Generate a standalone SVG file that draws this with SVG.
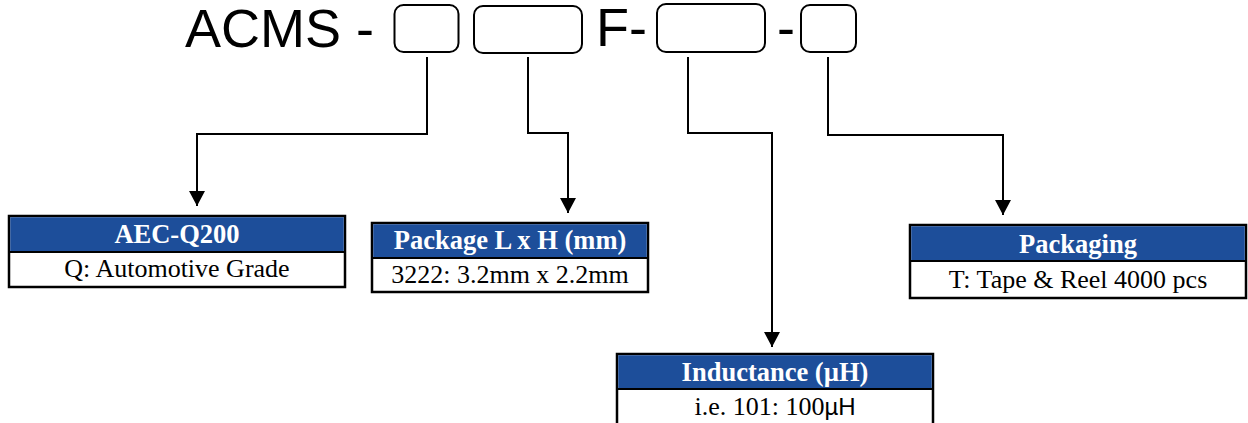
<svg xmlns="http://www.w3.org/2000/svg" width="1248" height="423" viewBox="0 0 1248 423">
  <defs>
    <marker id="arrow" markerUnits="userSpaceOnUse" markerWidth="16" markerHeight="16" viewBox="0 0 16 16" refX="15" refY="8" orient="auto">
      <path d="M0,0 L15,8 L0,16 Z" fill="#000"/>
    </marker>
    <style>
      .title { font-family: "Liberation Sans", Arial, sans-serif; font-size: 54px; fill: #000; }
      .slot { fill: none; stroke: #000; stroke-width: 2; }
      .conn { fill: none; stroke: #000; stroke-width: 2; }
      .hdr { fill: #1D4E9A; }
      .frame { fill: #fff; stroke: #000; stroke-width: 2.5; }
      .div { stroke: #000; stroke-width: 2; }
      .htxt { font-family: "Liberation Serif", "Times New Roman", "DejaVu Serif", serif; font-weight: bold; font-size: 26.5px; fill: #fff; text-anchor: middle; }
      .btxt { font-family: "Liberation Serif", "Times New Roman", "DejaVu Serif", serif; font-size: 26px; fill: #000; text-anchor: middle; }
      .sans { font-family: "Liberation Sans", Arial, sans-serif; font-size: 24px; }
    </style>
  </defs>

  <g id="part-number">
    <text class="title" x="185" y="47">ACMS -</text>
    <rect class="slot" x="394.5" y="5" width="64" height="47" rx="9"/>
    <rect class="slot" x="474" y="6" width="108" height="47" rx="9"/>
    <text class="title" x="596" y="46">F-</text>
    <rect class="slot" x="657" y="4" width="108" height="48" rx="9"/>
    <text class="title" x="777" y="46">-</text>
    <rect class="slot" x="801" y="5" width="55" height="47" rx="9"/>
  </g>

  <g id="connectors">
    <path class="conn" d="M427,57 V134 H197 V206" marker-end="url(#arrow)"/>
    <path class="conn" d="M528,57 V133 H568 V213" marker-end="url(#arrow)"/>
    <path class="conn" d="M688,57 V133 H772 V347" marker-end="url(#arrow)"/>
    <path class="conn" d="M828,57 V135 H1003 V215" marker-end="url(#arrow)"/>
  </g>

  <g id="aec-q200">
    <rect class="frame" x="9" y="216" width="336" height="71"/>
    <rect class="hdr" x="10.25" y="217.25" width="333.5" height="34.75"/>
    <line class="div" x1="9" y1="252" x2="345" y2="252"/>
    <text class="htxt" x="177" y="243">AEC-Q200</text>
    <text class="btxt" x="177" y="277">Q: Automotive Grade</text>
  </g>

  <g id="package">
    <rect class="frame" x="372" y="223" width="276" height="69"/>
    <rect class="hdr" x="373.25" y="224.25" width="273.5" height="33.75"/>
    <line class="div" x1="372" y1="258" x2="648" y2="258"/>
    <text class="htxt" x="510" y="249">Package L x H (mm)</text>
    <text class="btxt" x="510" y="283">3222: 3.2mm x 2.2mm</text>
  </g>

  <g id="packaging">
    <rect class="frame" x="910" y="225" width="336" height="73"/>
    <rect class="hdr" x="911.25" y="226.25" width="333.5" height="34.75"/>
    <line class="div" x1="910" y1="261" x2="1246" y2="261"/>
    <text class="htxt" x="1078" y="253">Packaging</text>
    <text class="btxt" x="1078" y="288">T: Tape &amp; Reel 4000 pcs</text>
  </g>

  <g id="inductance">
    <rect class="frame" x="617" y="354" width="316" height="80"/>
    <rect class="hdr" x="618.25" y="355.25" width="313.5" height="33.75"/>
    <line class="div" x1="617" y1="389" x2="933" y2="389"/>
    <text class="htxt" x="775" y="381">Inductance (µH)</text>
    <text class="btxt" x="775" y="415">i.e. 101: 100<tspan class="sans">µH</tspan></text>
  </g>
</svg>
